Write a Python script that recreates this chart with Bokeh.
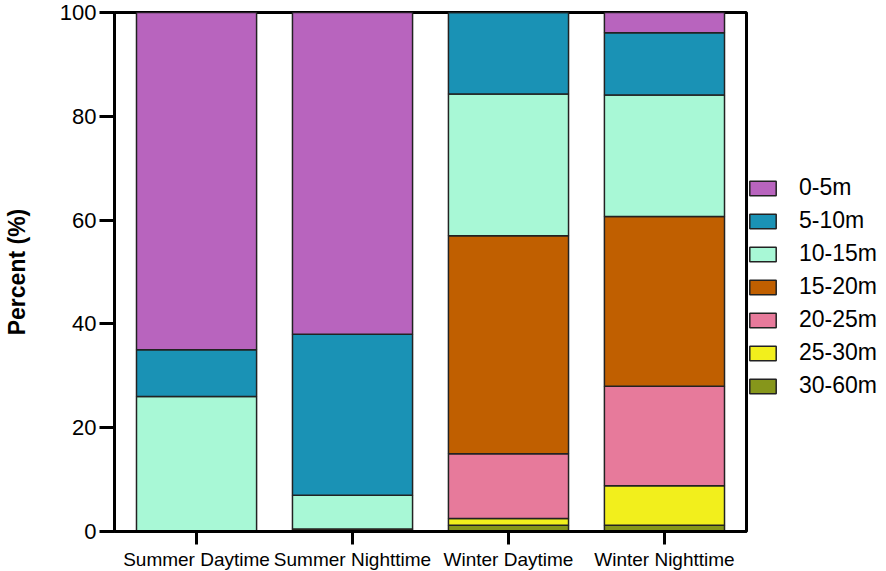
from bokeh.plotting import figure
from bokeh.models import FactorRange, Legend, LegendItem, ColumnDataSource, FixedTicker
from bokeh.embed import file_html
from bokeh.resources import INLINE

categories = ["Summer Daytime", "Summer Nighttime", "Winter Daytime", "Winter Nighttime"]
series_names = ["30-60m", "25-30m", "20-25m", "15-20m", "10-15m", "5-10m", "0-5m"]
m30_60 = [0.0, 0.0, 1.2, 1.2]
m25_30 = [0.0, 0.0, 1.3, 7.6]
m20_25 = [0.0, 0.0, 12.5, 19.2]
m15_20 = [0.0, 0.5, 42.0, 32.7]
m10_15 = [26.0, 6.5, 27.3, 23.4]
m5_10 = [9.0, 31.0, 15.7, 12.0]
m0_5 = [65.0, 62.0, 0.0, 3.9]
y_ticks = [0, 20, 40, 60, 80, 100]

colors = ["#86961B", "#F2EF1C", "#E77A9B", "#C05F00", "#A8F8D6", "#1A92B5", "#B864BE"]

source = ColumnDataSource(dict(
    x=categories,
    **{"30-60m": m30_60, "25-30m": m25_30, "20-25m": m20_25, "15-20m": m15_20,
       "10-15m": m10_15, "5-10m": m5_10, "0-5m": m0_5}))

FONT = "Liberation Sans"

p = figure(x_range=FactorRange(*categories, range_padding=0.013), y_range=(0, 100),
           frame_width=632, frame_height=519, output_backend="svg", toolbar_location=None,
           min_border_left=104, min_border_top=12, min_border_bottom=10, min_border_right=0)

renderers = p.vbar_stack(series_names, x="x", width=0.77, source=source, color=colors,
                         line_color="#222222", line_width=1.5)

p.xgrid.visible = False
p.ygrid.visible = False
p.outline_line_color = "black"
p.outline_line_width = 3
p.outline_line_alpha = 1.0

p.yaxis.ticker = FixedTicker(ticks=y_ticks)
p.yaxis.minor_tick_line_color = None
for ax in (p.xaxis[0], p.yaxis[0]):
    ax.axis_line_width = 3
    ax.axis_line_color = "black"
    ax.major_tick_line_width = 3
    ax.major_tick_line_color = "black"
    ax.major_tick_in = 0
    ax.major_label_text_font = FONT
    ax.major_label_text_color = "black"
p.yaxis.major_tick_out = 15
p.yaxis.major_label_text_font_size = "22px"
p.yaxis.major_label_standoff = 3
p.yaxis.axis_label = "Percent (%)"
p.yaxis.axis_label_text_font = FONT
p.yaxis.axis_label_text_font_size = "23px"
p.yaxis.axis_label_text_font_style = "bold"
p.yaxis.axis_label_text_color = "black"
p.yaxis.axis_label_standoff = 27
p.xaxis.major_tick_out = 13
p.xaxis.major_label_text_font_size = "19px"
p.xaxis.major_label_standoff = 4
p.xaxis.group_text_font_size = "0px"

items = [LegendItem(label=name, renderers=[r]) for name, r in zip(series_names, renderers)]
items = items[::-1]
legend = Legend(items=items, location=(0, 132), orientation="vertical",
                glyph_width=33, glyph_height=18, label_height=18, spacing=6,
                label_standoff=20, padding=4, margin=0, border_line_color=None,
                background_fill_alpha=0,
                label_text_font=FONT, label_text_font_size="23px", label_text_color="black")
p.add_layout(legend, "right")

open("out.html", "w").write(file_html(p, INLINE))
